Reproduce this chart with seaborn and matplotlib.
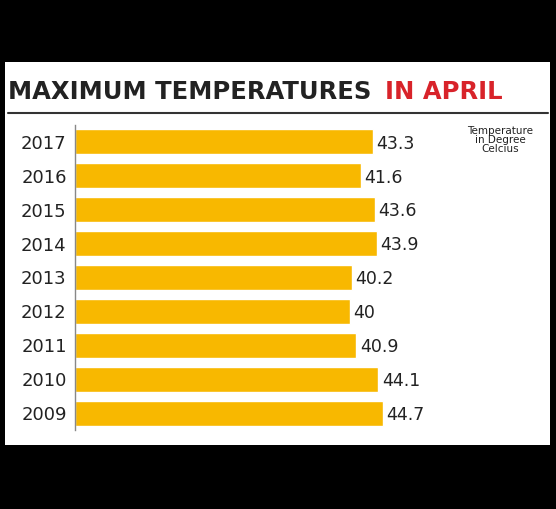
import matplotlib.pyplot as plt
import seaborn as sns
import pandas as pd

years = ["2017", "2016", "2015", "2014", "2013", "2012", "2011", "2010", "2009"]
temps = [43.3, 41.6, 43.6, 43.9, 40.2, 40, 40.9, 44.1, 44.7]
labels = ["43.3", "41.6", "43.6", "43.9", "40.2", "40", "40.9", "44.1", "44.7"]

df = pd.DataFrame({"year": years, "temp": temps})

sns.set_style("white")
fig = plt.figure(figsize=(5.56, 5.09), dpi=100, facecolor="black")
# white panel behind everything
fig.patches.append(plt.Rectangle((5 / 556, 1 - 445 / 509), 545 / 556, 383 / 509,
                                 transform=fig.transFigure, facecolor="white",
                                 edgecolor="none", zorder=-10))
fig.text(8 / 556, 1 - 92 / 509, "MAXIMUM TEMPERATURES", fontsize=17.5,
         fontweight="bold", color="#222222", va="center")
fig.text(385 / 556, 1 - 92 / 509, "IN APRIL", fontsize=17.5, fontweight="bold",
         color="#d8232a", va="center")
fig.add_artist(plt.Line2D([8 / 556, 548 / 556], [1 - 113 / 509] * 2,
                          transform=fig.transFigure, color="#333333", lw=1.5))
fig.text(500 / 556, 1 - 140 / 509, "Temperature\nin Degree\nCelcius", fontsize=7.5,
         ha="center", va="center", linespacing=0.9, color="#222222")

ax = fig.add_axes([75 / 556, 1 - 430 / 509, 470 / 556, 305 / 509])
ax.set_zorder(5)
ax.set_facecolor("none")
sns.barplot(data=df, x="temp", y="year", color="#f8b800", saturation=1,
            width=0.74, ax=ax, orient="h")
ax.set_xlim(0, 470 / 6.88)
ax.set_ylim(8.5, -0.5)
for i, (t, lab) in enumerate(zip(temps, labels)):
    ax.text(t + 0.5, i + 0.05, lab, va="center", ha="left", fontsize=12.5,
            color="#222222")
ax.set_xticks([])
ax.set_xlabel("")
ax.set_ylabel("")
ax.tick_params(axis="y", length=0, pad=6, labelsize=13, labelcolor="#222222")
for s in ["top", "right", "bottom"]:
    ax.spines[s].set_visible(False)
ax.spines["left"].set_color("#888888")
ax.spines["left"].set_linewidth(1)

fig.savefig("out.png", dpi=100, facecolor="black")
